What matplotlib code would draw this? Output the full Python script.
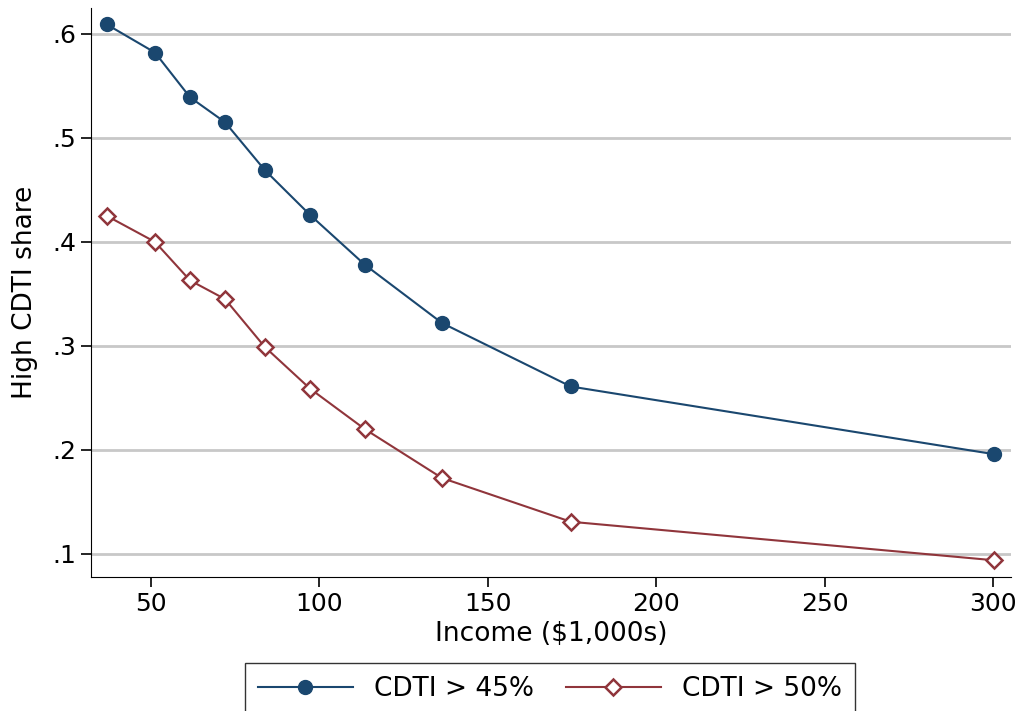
import matplotlib
matplotlib.use('Agg')
import matplotlib.pyplot as plt
import numpy as np

income = [36.9, 51.2, 61.6, 72.0, 83.8, 97.2, 113.5, 136.4, 174.6, 300.1]
share_45 = [0.609, 0.582, 0.539, 0.515, 0.469, 0.426, 0.378, 0.322, 0.261, 0.196]
share_50 = [0.425, 0.400, 0.363, 0.345, 0.299, 0.259, 0.220, 0.173, 0.131, 0.094]

navy = '#1a476f'
maroon = '#90353b'

plt.rcParams['font.family'] = 'DejaVu Sans'

fig = plt.figure(figsize=(10.22, 7.11), dpi=100)
ax = fig.add_axes([0.089, 0.1885, 0.9, 0.8005])

ax.plot(income, share_45, color=navy, lw=1.5, marker='o', ms=10,
        label='CDTI > 45%')
ax.plot(income, share_50, color=maroon, lw=1.5, marker='D', ms=8,
        mfc='white', mec=maroon, mew=1.8, label='CDTI > 50%')

ax.set_xlim(32.2, 305.2)
ax.set_ylim(0.0779, 0.625)
ax.set_xticks([50, 100, 150, 200, 250, 300])
yt = [0.1, 0.2, 0.3, 0.4, 0.5, 0.6]
ax.set_yticks(yt)
ax.set_yticklabels(['.1', '.2', '.3', '.4', '.5', '.6'])
ax.yaxis.grid(True, color='#c8c8c8', lw=2)
ax.set_axisbelow(True)
for s in ['top', 'right']:
    ax.spines[s].set_visible(False)
ax.tick_params(labelsize=18, length=7, width=1.2)
ax.set_xlabel('Income ($1,000s)', fontsize=19, labelpad=4)
ax.set_ylabel('High CDTI share', fontsize=19, labelpad=10)

leg = fig.legend(loc='upper center', bbox_to_anchor=(0.538, 1 - 663 / 711),
                 ncol=2, fontsize=19, frameon=True, fancybox=False,
                 edgecolor='black', handlelength=3.6, columnspacing=1.2,
                 borderpad=0.5, borderaxespad=0)
leg.get_frame().set_linewidth(1.0)

fig.savefig('out.png', dpi=100)
